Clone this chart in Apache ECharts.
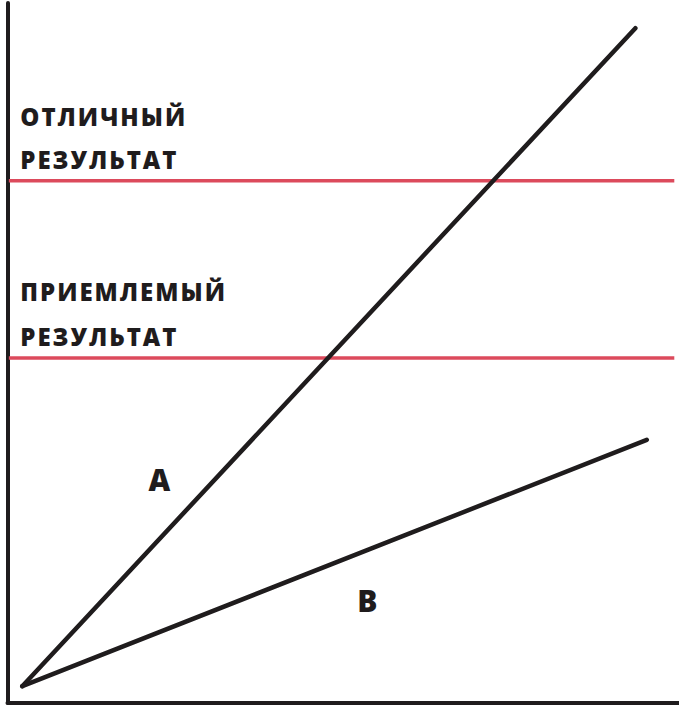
<!DOCTYPE html>
<html>
<head>
<meta charset="utf-8">
<script src="https://cdn.jsdelivr.net/npm/echarts@6/dist/echarts.min.js"></script>
<style>
  html, body { margin: 0; padding: 0; background: #ffffff; }
  #chart { width: 679px; height: 712px; }
  #chart svg text { letter-spacing: 2px; }
</style>
</head>
<body>
<div id="chart"></div>
<script>
// ---- data (value units on a 0–100 scale for both axes) ----
const lineA = [[2.2, 2.4], [93.5, 96.4]];
const lineB = [[2.2, 2.4], [95.2, 37.6]];
const excellentLevel = 74.6;
const acceptableLevel = 49.3;
const levelSpan = [0.2, 99.3];
const levelLabels = [
  { lines: ['ОТЛИЧНЫЙ', 'РЕЗУЛЬТАТ'], value: excellentLevel },
  { lines: ['ПРИЕМЛЕМЫЙ', 'РЕЗУЛЬТАТ'], value: acceptableLevel }
];
const lineNames = ['A', 'B'];

const INK = '#1f1c1d';
const RED = '#dc4a5c';
const FONT = '"Open Sans", "DejaVu Sans", sans-serif';

const chart = echarts.init(document.getElementById('chart'), null, { renderer: 'svg' });

const levelSeries = [excellentLevel, acceptableLevel].map(v => ({
  type: 'line',
  data: [[levelSpan[0], v], [levelSpan[1], v]],
  symbol: 'none',
  silent: true,
  lineStyle: { color: RED, width: 3.5 },
  z: 2
}));

const mainSeries = [lineA, lineB].map(d => ({
  type: 'line',
  data: d,
  symbol: 'none',
  silent: true,
  lineStyle: { color: INK, width: 4.5, cap: 'round' },
  z: 3
}));

// Labels as scatter points anchored to data coordinates
const labelPoints = [];
levelLabels.forEach(l => {
  labelPoints.push({ value: [1.9, l.value + 9.2], name: l.lines[0] });
  labelPoints.push({ value: [1.9, l.value + 3.1], name: l.lines[1] });
});
labelPoints[2].value[1] += 0.3;

const letterPoints = [
  { value: [21.0, 31.9], name: lineNames[0] },
  { value: [52.1, 14.6], name: lineNames[1] }
];

chart.setOption({
  animation: false,
  backgroundColor: '#ffffff',
  grid: { left: 7.5, right: 0, top: 3, bottom: 9, containLabel: false },
  xAxis: {
    type: 'value', min: 0, max: 100,
    axisLine: { show: true, onZero: false, lineStyle: { color: INK, width: 4 } },
    axisTick: { show: false }, axisLabel: { show: false }, splitLine: { show: false }
  },
  yAxis: {
    type: 'value', min: 0, max: 100,
    axisLine: { show: true, onZero: false, lineStyle: { color: INK, width: 4 } },
    axisTick: { show: false }, axisLabel: { show: false }, splitLine: { show: false }
  },
  series: [
    ...levelSeries,
    ...mainSeries,
    {
      type: 'scatter',
      data: labelPoints,
      symbolSize: 0,
      silent: true,
      label: {
        show: true, position: 'right', distance: 0,
        formatter: p => p.name,
        fontFamily: FONT, fontWeight: 800, fontSize: 24, color: INK, opacity: 1
      },
      z: 4
    },
    {
      type: 'scatter',
      data: letterPoints,
      symbolSize: 0,
      silent: true,
      label: {
        show: true, position: 'right', distance: 0,
        formatter: p => p.name,
        fontFamily: FONT, fontWeight: 800, fontSize: 30, color: INK, opacity: 1
      },
      z: 4
    }
  ]
});
</script>
</body>
</html>
